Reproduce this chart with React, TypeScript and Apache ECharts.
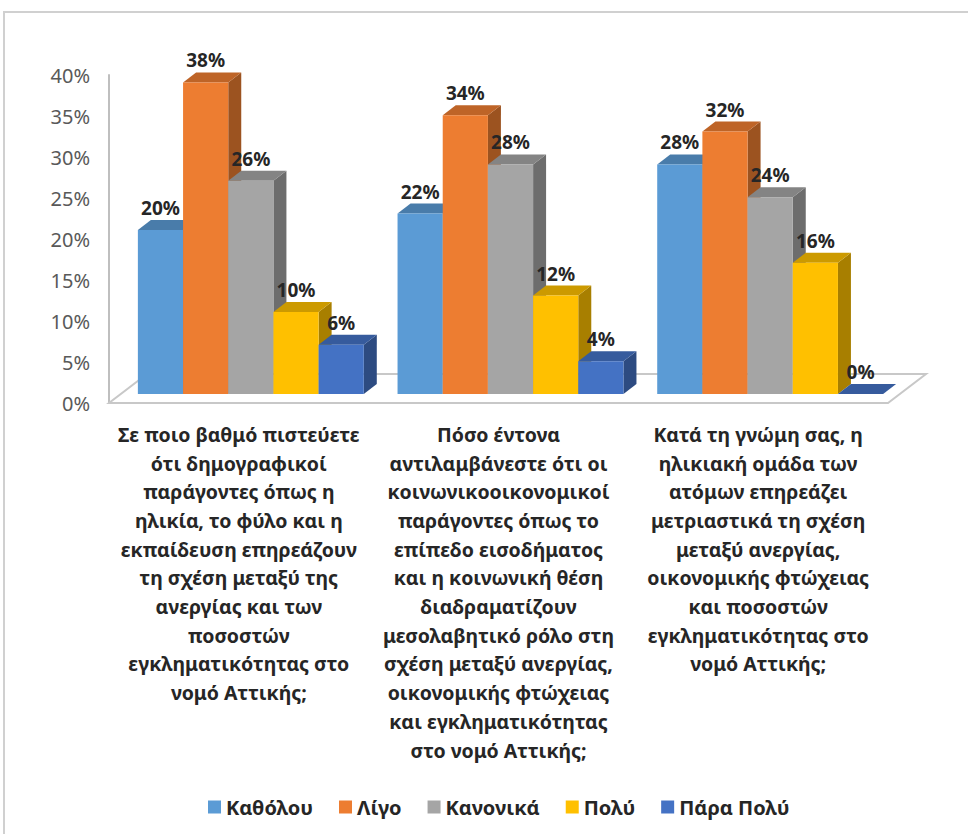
import React, { useEffect, useRef } from "react";
import * as echarts from "echarts";

const categories = [
  "Σε ποιο βαθμό πιστεύετε\nότι δημογραφικοί\nπαράγοντες όπως η\nηλικία, το φύλο και η\nεκπαίδευση επηρεάζουν\nτη σχέση μεταξύ της\nανεργίας και των\nποσοστών\nεγκληματικότητας στο\nνομό Αττικής;",
  "Πόσο έντονα\nαντιλαμβάνεστε ότι οι\nκοινωνικοοικονομικοί\nπαράγοντες όπως το\nεπίπεδο εισοδήματος\nκαι η κοινωνική θέση\nδιαδραματίζουν\nμεσολαβητικό ρόλο στη\nσχέση μεταξύ ανεργίας,\nοικονομικής φτώχειας\nκαι εγκληματικότητας\nστο νομό Αττικής;",
  "Κατά τη γνώμη σας, η\nηλικιακή ομάδα των\nατόμων επηρεάζει\nμετριαστικά τη σχέση\nμεταξύ ανεργίας,\nοικονομικής φτώχειας\nκαι ποσοστών\nεγκληματικότητας στο\nνομό Αττικής;",
];
const seriesNames = ["Καθόλου", "Λίγο", "Κανονικά", "Πολύ", "Πάρα Πολύ"];
const katholou = [20, 22, 28];
const ligo = [38, 34, 32];
const kanonika = [26, 28, 24];
const poly = [10, 12, 16];
const paraPoly = [6, 4, 0];
const seriesValues = [katholou, ligo, kanonika, poly, paraPoly];
const colors = ["#5B9BD5", "#ED7D31", "#A5A5A5", "#FFC000", "#4472C4"];
const yMin = 0;
const yMax = 40;
const yInterval = 5;

const FONT = "'Noto Sans', sans-serif";

function shade(hex: string, f: number): string {
  const n = parseInt(hex.slice(1), 16);
  const r = Math.round(((n >> 16) & 255) * f);
  const g = Math.round(((n >> 8) & 255) * f);
  const b = Math.round((n & 255) * f);
  return "rgb(" + r + "," + g + "," + b + ")";
}

export default function App() {
  const ref = useRef<HTMLDivElement>(null);
  useEffect(() => {
    document.body.style.margin = "0";
    const chart = echarts.init(ref.current!, null, { renderer: "svg" });
    const OX = 12, OY = -9, DX = 13, DY = 10, FLOOR_DX = 38, FLOOR_DY = 29;
    const GROUP_FRAC = 0.87;

    const barSeries = seriesValues.map((vals, si) => ({
      type: "custom",
      name: seriesNames[si],
      itemStyle: { color: colors[si] },
      z: 3,
      data: vals.map((v, ci) => [ci, v]),
      renderItem: (params: any, api: any) => {
        const ci = api.value(0);
        const v = api.value(1);
        const base = api.coord([ci, 0]);
        const topP = api.coord([ci, v]);
        const bandW = api.size([1, 0])[0];
        const barW = (bandW * GROUP_FRAC) / 5;
        const x0 = base[0] - barW * 2.5 + OX + si * barW;
        const x1 = x0 + barW;
        const yb = base[1] + OY;
        const yt = topP[1] + OY;
        const c = colors[si];
        return {
          type: "group",
          children: [
            {
              type: "polygon",
              shape: { points: [[x1, yt], [x1 + DX, yt - DY], [x1 + DX, yb - DY], [x1, yb]] },
              style: { fill: shade(c, 0.66) },
            },
            {
              type: "polygon",
              shape: { points: [[x0, yt], [x0 + DX, yt - DY], [x1 + DX, yt - DY], [x1, yt]] },
              style: { fill: shade(c, 0.8) },
            },
            {
              type: "rect",
              shape: { x: x0, y: yt, width: barW, height: Math.max(0, yb - yt) },
              style: { fill: c },
            },
            {
              type: "text",
              x: (x0 + x1) / 2,
              y: yt - 22,
              style: {
                text: v + "%",
                fill: "#262626",
                font: "bold 19px " + FONT,
                align: "center",
                verticalAlign: "middle",
              },
            },
          ],
        };
      },
    }));

    const floorSeries = {
      type: "custom",
      silent: true,
      z: 1,
      data: [[0, 0]],
      renderItem: (params: any) => {
        const cs = params.coordSys;
        const bx = cs.x;
        const by = cs.y + cs.height;
        const ex = cs.x + cs.width;
        return {
          type: "polygon",
          shape: {
            points: [[bx, by], [ex, by], [ex + FLOOR_DX, by - FLOOR_DY], [bx + FLOOR_DX, by - FLOOR_DY]],
          },
          style: { fill: "#ffffff", stroke: "#C8C8C8", lineWidth: 2 },
        };
      },
    };

    chart.setOption({
      animation: false,
      backgroundColor: "#ffffff",
      grid: { left: 109, right: 80, top: 75, bottom: 431, containLabel: false },
      graphic: [
        {
          type: "rect",
          shape: { x: 4, y: 12, width: 1000, height: 900 },
          style: { fill: "none", stroke: "#D0D0D0", lineWidth: 2 },
          silent: true,
        },
      ],
      xAxis: {
        type: "category",
        data: categories,
        axisLine: { show: false },
        axisTick: { show: false },
        splitLine: { show: false },
        axisLabel: {
          interval: 0,
          fontFamily: FONT,
          fontWeight: "bold",
          fontSize: 19.5,
          color: "#262626",
          lineHeight: 28.7,
          margin: 17,
          align: "center",
        },
      },
      yAxis: {
        type: "value",
        min: yMin,
        max: yMax,
        interval: yInterval,
        axisLine: { show: true, lineStyle: { color: "#BFBFBF", width: 2 } },
        axisTick: { show: false },
        splitLine: { show: false },
        axisLabel: {
          formatter: "{value}%",
          fontFamily: FONT,
          fontSize: 20,
          color: "#595959",
          margin: 19,
        },
      },
      legend: {
        data: seriesNames,
        left: 203,
        top: 792,
        itemWidth: 13,
        itemHeight: 13,
        itemGap: 26,
        icon: "rect",
        textStyle: { fontFamily: FONT, fontWeight: "bold", fontSize: 20, color: "#262626" },
      },
      series: [floorSeries, ...barSeries],
    });
    return () => chart.dispose();
  }, []);
  return (
    <div
      ref={ref}
      style={{ position: "absolute", left: 0, top: 0, width: 968, height: 834 }}
    />
  );
}
